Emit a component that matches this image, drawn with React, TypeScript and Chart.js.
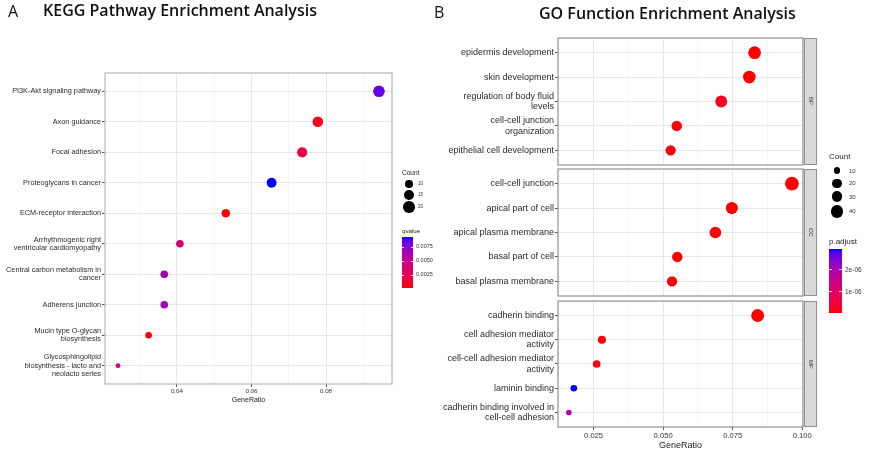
import React, { useEffect, useRef } from "react";
import { Chart, registerables } from "chart.js";
Chart.register(...registerables);

// ---------------- Data: KEGG (panel A) ----------------
const keggTerms: string[][] = [
  ["PI3K-Akt signaling pathway"],
  ["Axon guidance"],
  ["Focal adhesion"],
  ["Proteoglycans in cancer"],
  ["ECM-receptor interaction"],
  ["Arrhythmogenic right", "ventricular cardiomyopathy"],
  ["Central carbon metabolism in", "cancer"],
  ["Adherens junction"],
  ["Mucin type O-glycan", "biosynthesis"],
  ["Glycosphingolipid", "biosynthesis - lacto and", "neolacto series"],
];
const keggGeneRatio = [0.0942, 0.0778, 0.0736, 0.0654, 0.0531, 0.0408, 0.0366, 0.0366, 0.0324, 0.0242];
const keggCount = [20, 17, 16, 15, 12, 10, 10, 10, 8, 5];
const keggQvalue = [0.0085, 0.0008, 0.0021, 0.0094, 0.0004, 0.0039, 0.0068, 0.0068, 0.0003, 0.0049];
const keggXTicks = [0.03, 0.04, 0.05, 0.06, 0.07, 0.08, 0.09];
const keggXMajor = [0.04, 0.06, 0.08];
const keggXLabels = ["0.04", "0.06", "0.08"];
const keggCountLegend = [10, 15, 20];
const keggQLegend = [0.0075, 0.005, 0.0025];
const keggQLegendLabels = ["0.0075", "0.0050", "0.0025"];

// ---------------- Data: GO (panel B) ----------------
const bpTerms: string[][] = [
  ["epidermis development"],
  ["skin development"],
  ["regulation of body fluid", "levels"],
  ["cell-cell junction", "organization"],
  ["epithelial cell development"],
];
const bpGeneRatio = [0.0829, 0.081, 0.0709, 0.0549, 0.0527];
const bpCount = [41, 40, 35, 27, 26];
const bpPadj = [1.2e-10, 1.5e-10, 2.0e-7, 5e-8, 8e-8];

const ccTerms: string[][] = [
  ["cell-cell junction"],
  ["apical part of cell"],
  ["apical plasma membrane"],
  ["basal part of cell"],
  ["basal plasma membrane"],
];
const ccGeneRatio = [0.0963, 0.0747, 0.0688, 0.0551, 0.0532];
const ccCount = [48, 37, 34, 27, 26];
const ccPadj = [1e-13, 2e-10, 6e-9, 1e-8, 3e-8];

const mfTerms: string[][] = [
  ["cadherin binding"],
  ["cell adhesion mediator", "activity"],
  ["cell-cell adhesion mediator", "activity"],
  ["laminin binding"],
  ["cadherin binding involved in", "cell-cell adhesion"],
];
const mfGeneRatio = [0.084, 0.028, 0.0261, 0.0179, 0.0161];
const mfCount = [42, 16, 14, 10, 7];
const mfPadj = [1e-12, 5e-8, 8e-8, 2.95e-6, 1.9e-6];

const facetNames = ["BP", "CC", "MF"];
const goXTicks = [0.025, 0.0375, 0.05, 0.0625, 0.075, 0.0875, 0.1];
const goXMajor = [0.025, 0.05, 0.075, 0.1];
const goXLabels = ["0.025", "0.050", "0.075", "0.100"];
const goCountLegend = [10, 20, 30, 40];
const goPadjLegend = [2e-6, 1e-6];
const goPadjLegendLabels = ["2e-06", "1e-06"];

// ---------------- Helpers ----------------
const FONT = "'Liberation Sans', Arial, Helvetica, sans-serif";
const TITLE_FONT = "'Open Sans', 'Liberation Sans', sans-serif";

function lin(c: number) {
  c /= 255;
  return c <= 0.04045 ? c / 12.92 : Math.pow((c + 0.055) / 1.055, 2.4);
}
function rgb2lab(rgb: number[]) {
  const [r, g, b] = rgb.map(lin);
  const x = (0.4124 * r + 0.3576 * g + 0.1805 * b) / 0.95047;
  const y = 0.2126 * r + 0.7152 * g + 0.0722 * b;
  const z = (0.0193 * r + 0.1192 * g + 0.9505 * b) / 1.08883;
  const f = (t: number) => (t > 0.008856 ? Math.cbrt(t) : 7.787 * t + 16 / 116);
  const fx = f(x), fy = f(y), fz = f(z);
  return [116 * fy - 16, 500 * (fx - fy), 200 * (fy - fz)];
}
function lab2rgb(lab: number[]) {
  const [L, a, b] = lab;
  const fy = (L + 16) / 116, fx = fy + a / 500, fz = fy - b / 200;
  const finv = (t: number) => (t * t * t > 0.008856 ? t * t * t : (t - 16 / 116) / 7.787);
  const x = finv(fx) * 0.95047, y = finv(fy), z = finv(fz) * 1.08883;
  const r = 3.2406 * x - 1.5372 * y - 0.4986 * z;
  const g = -0.9689 * x + 1.8758 * y + 0.0415 * z;
  const bb = 0.0557 * x - 0.204 * y + 1.057 * z;
  const gam = (c: number) => {
    c = Math.min(1, Math.max(0, c));
    return Math.round(255 * (c <= 0.0031308 ? 12.92 * c : 1.055 * Math.pow(c, 1 / 2.4) - 0.055));
  };
  return `rgb(${gam(r)},${gam(g)},${gam(bb)})`;
}
const LAB_LOW = rgb2lab([255, 0, 0]);
const LAB_HIGH = rgb2lab([0, 0, 255]);
function gradColor(t: number) {
  t = Math.min(1, Math.max(0, t));
  return lab2rgb(LAB_LOW.map((v, i) => v + (LAB_HIGH[i] - v) * t));
}
function gradientCss() {
  const stops: string[] = [];
  for (let i = 0; i <= 20; i++) stops.push(`${gradColor(1 - i / 20)} ${(i / 20) * 100}%`);
  return `linear-gradient(to bottom, ${stops.join(",")})`;
}

const keggR = (c: number) => 1.527 * Math.sqrt(c) - 1.0;
const goR = (c: number) => 0.949 * Math.sqrt(c) + 0.3;

const panelBorder = {
  id: "panelBorder",
  afterDraw(chart: any, _args: any, opts: any) {
    const { left, top, right, bottom } = chart.chartArea;
    const ctx = chart.ctx;
    ctx.save();
    ctx.strokeStyle = opts.color || "#999";
    ctx.lineWidth = opts.width || 1;
    ctx.strokeRect(left, top, right - left, bottom - top);
    ctx.restore();
  },
};

function buildDot(p: any) {
  const n = p.terms.length;
  const [cMin, cMax] = p.colorRange;
  const data = p.terms.map((_: any, i: number) => ({ x: p.ratio[i], y: n - i, r: p.rFn(p.count[i]) }));
  const colors = p.colorVal.map((v: number) => gradColor((v - cMin) / (cMax - cMin)));
  const isMajor = (v: number) => p.xMajor.some((m: number) => Math.abs(m - v) < 1e-9);
  return {
    type: "bubble",
    data: { datasets: [{ data, backgroundColor: colors, borderWidth: 0, hoverBorderWidth: 0 }] },
    options: {
      responsive: false,
      animation: false,
      events: [],
      layout: { padding: p.padding },
      plugins: {
        legend: { display: false },
        tooltip: { enabled: false },
        panelBorder: { color: p.borderColor, width: p.borderWidth },
      },
      scales: {
        x: {
          type: "linear",
          min: p.xMin,
          max: p.xMax,
          border: { display: false },
          afterBuildTicks: (s: any) => {
            s.ticks = p.xTicks.map((v: number) => ({ value: v }));
          },
          afterFit: (s: any) => {
            s.height = p.xAxisH;
          },
          grid: {
            color: (ctx: any) => (ctx.tick && isMajor(ctx.tick.value) ? "#E8E8E8" : "#F0F0F0"),
            lineWidth: (ctx: any) => (ctx.tick && isMajor(ctx.tick.value) ? 1 : 0.7),
            drawTicks: p.showX,
            tickLength: 3,
            tickWidth: 1,
            tickColor: (ctx: any) => (ctx.tick && isMajor(ctx.tick.value) ? "#555" : "rgba(0,0,0,0)"),
          },
          ticks: {
            display: p.showX,
            padding: 1,
            color: "#333",
            autoSkip: false,
            maxRotation: 0,
            minRotation: 0,
            font: { family: FONT, size: p.xFont },
            callback: (v: number) => {
              const k = p.xMajor.findIndex((m: number) => Math.abs(m - v) < 1e-9);
              return k >= 0 ? p.xLabels[k] : "";
            },
          },
        },
        y: {
          type: "linear",
          min: 0.4,
          max: n + 0.6,
          border: { display: false },
          afterBuildTicks: (s: any) => {
            s.ticks = p.terms.map((_: any, i: number) => ({ value: i + 1 }));
          },
          afterFit: (s: any) => {
            s.width = p.yAxisW;
          },
          grid: { color: "#E8E8E8", lineWidth: 1, tickLength: 3, tickWidth: 1, tickColor: "#555" },
          ticks: {
            padding: 1,
            color: "#2b2b2b",
            autoSkip: false,
            font: { family: FONT, size: p.yFont, lineHeight: 1.15 },
            callback: (v: number) => p.terms[n - Math.round(v)],
          },
        },
      },
    },
    plugins: [panelBorder],
  };
}

function ChartCanvas(props: { left: number; top: number; width: number; height: number; build: () => any }) {
  const ref = useRef<HTMLCanvasElement>(null);
  useEffect(() => {
    const chart = new Chart(ref.current as HTMLCanvasElement, props.build());
    return () => chart.destroy();
  }, []);
  return (
    <canvas
      ref={ref}
      width={props.width}
      height={props.height}
      style={{ position: "absolute", left: props.left, top: props.top, width: props.width, height: props.height }}
    />
  );
}

function Txt(props: { x: number; y: number; size: number; children: any; anchor?: string; color?: string; weight?: number; family?: string }) {
  const tx = props.anchor === "middle" ? "-50%" : "0";
  return (
    <div
      style={{
        position: "absolute",
        left: props.x,
        top: props.y,
        transform: `translate(${tx}, -50%)`,
        fontSize: props.size,
        lineHeight: 1,
        whiteSpace: "nowrap",
        color: props.color || "#222",
        fontWeight: props.weight || 400,
        fontFamily: props.family || FONT,
      }}
    >
      {props.children}
    </div>
  );
}

function Dot(props: { x: number; y: number; r: number }) {
  return (
    <div
      style={{
        position: "absolute",
        left: props.x - props.r,
        top: props.y - props.r,
        width: props.r * 2,
        height: props.r * 2,
        borderRadius: "50%",
        background: "#000",
      }}
    />
  );
}

function ColorBar(props: { x: number; top: number; w: number; h: number; range: number[]; values: number[]; labels: string[]; labelX: number; size: number }) {
  const [mn, mx] = props.range;
  const yOf = (v: number) => props.top + ((mx - v) / (mx - mn)) * props.h;
  return (
    <>
      <div style={{ position: "absolute", left: props.x, top: props.top, width: props.w, height: props.h, background: gradientCss() }} />
      {props.values.map((v, i) => (
        <React.Fragment key={i}>
          <div style={{ position: "absolute", left: props.x, top: yOf(v) - 0.5, width: props.w * 0.2, height: 1, background: "rgba(255,255,255,0.8)" }} />
          <div style={{ position: "absolute", left: props.x + props.w * 0.8, top: yOf(v) - 0.5, width: props.w * 0.2, height: 1, background: "rgba(255,255,255,0.8)" }} />
          <Txt x={props.labelX} y={yOf(v)} size={props.size} color="#333">
            {props.labels[i]}
          </Txt>
        </React.Fragment>
      ))}
    </>
  );
}

// ---------------- Layout ----------------
const A_PLOT = { left: 105, right: 392, top: 73, bottom: 384 };
const B_LEFT = 558;
const B_RIGHT = 803;
const B_FACETS = [
  { top: 38, bottom: 165 },
  { top: 169, bottom: 296 },
  { top: 301, bottom: 427 },
];

export default function App() {
  const keggRange = [Math.min(...keggQvalue), Math.max(...keggQvalue)];
  const allPadj = [...bpPadj, ...ccPadj, ...mfPadj];
  const goRange = [Math.min(...allPadj), Math.max(...allPadj)];

  const buildA = () =>
    buildDot({
      terms: keggTerms,
      ratio: keggGeneRatio,
      count: keggCount,
      colorVal: keggQvalue,
      colorRange: keggRange,
      rFn: keggR,
      xMin: 0.0207,
      xMax: 0.0977,
      xTicks: keggXTicks,
      xMajor: keggXMajor,
      xLabels: keggXLabels,
      yAxisW: A_PLOT.left,
      xAxisH: 14,
      padding: { left: 0, top: A_PLOT.top, right: 400 - A_PLOT.right, bottom: 452 - A_PLOT.bottom - 14 },
      showX: true,
      xFont: 6.2,
      yFont: 7.3,
      borderColor: "#B8B8B8",
      borderWidth: 1.2,
    });

  const facetData = [
    { terms: bpTerms, ratio: bpGeneRatio, count: bpCount, padj: bpPadj },
    { terms: ccTerms, ratio: ccGeneRatio, count: ccCount, padj: ccPadj },
    { terms: mfTerms, ratio: mfGeneRatio, count: mfCount, padj: mfPadj },
  ];
  const CAN_LEFT = 420;
  const CAN_W = 869 - CAN_LEFT;

  const facetCanvases = facetData.map((f, i) => {
    const fr = B_FACETS[i];
    const last = i === facetData.length - 1;
    const top = fr.top - 10;
    const xAxisH = last ? 20 : 0;
    const padBottom = last ? 452 - fr.bottom - xAxisH : 7;
    const height = last ? 452 - top : fr.bottom + 7 - top;
    const build = () =>
      buildDot({
        terms: f.terms,
        ratio: f.ratio,
        count: f.count,
        colorVal: f.padj,
        colorRange: goRange,
        rFn: goR,
        xMin: 0.0122,
        xMax: 0.1003,
        xTicks: goXTicks,
        xMajor: goXMajor,
        xLabels: goXLabels,
        yAxisW: B_LEFT - CAN_LEFT,
        xAxisH,
        padding: { left: 0, top: 10, right: CAN_W - (B_RIGHT - CAN_LEFT), bottom: padBottom },
        showX: last,
        xFont: 7.6,
        yFont: 9,
        borderColor: "#9A9A9A",
        borderWidth: 1.3,
      });
    return <ChartCanvas key={i} left={CAN_LEFT} top={top} width={CAN_W} height={height} build={build} />;
  });

  return (
    <div style={{ position: "absolute", left: 0, top: 0, width: 869, height: 452, background: "#fff", overflow: "hidden", fontFamily: FONT }}>
      <ChartCanvas left={0} top={0} width={400} height={452} build={buildA} />
      {facetCanvases}

      {/* Titles */}
      <Txt x={8} y={11} size={16} family={TITLE_FONT} color="#111">A</Txt>
      <Txt x={43} y={9.5} size={16} weight={600} family={TITLE_FONT} color="#111">KEGG Pathway Enrichment Analysis</Txt>
      <Txt x={434} y={12} size={16} family={TITLE_FONT} color="#111">B</Txt>
      <Txt x={539} y={12.5} size={16} weight={600} family={TITLE_FONT} color="#111">GO Function Enrichment Analysis</Txt>

      {/* Axis titles */}
      <Txt x={(A_PLOT.left + A_PLOT.right) / 2} y={399} size={7} anchor="middle">GeneRatio</Txt>
      <Txt x={(B_LEFT + B_RIGHT) / 2} y={445} size={9} anchor="middle">GeneRatio</Txt>

      {/* Facet strips */}
      {B_FACETS.map((fr, i) => (
        <div
          key={i}
          style={{
            position: "absolute",
            left: B_RIGHT + 1,
            top: fr.top,
            width: 13,
            height: fr.bottom - fr.top,
            background: "#D9D9D9",
            border: "1px solid #8F8F8F",
            boxSizing: "border-box",
            display: "flex",
            alignItems: "center",
            justifyContent: "center",
          }}
        >
          <span style={{ writingMode: "vertical-rl", fontSize: 6, color: "#333", lineHeight: 1 }}>{facetNames[i]}</span>
        </div>
      ))}

      {/* Legend A */}
      <Txt x={402} y={173} size={6.5} color="#222">Count</Txt>
      {keggCountLegend.map((c, i) => (
        <React.Fragment key={c}>
          <Dot x={409} y={[184, 194.7, 207][i]} r={keggR(c)} />
          <Txt x={418} y={[184, 194.7, 207][i]} size={4.6} color="#333">{String(c)}</Txt>
        </React.Fragment>
      ))}
      <Txt x={402} y={231} size={6.2} color="#222">qvalue</Txt>
      <ColorBar x={402} top={236.7} w={11} h={51} range={keggRange} values={keggQLegend} labels={keggQLegendLabels} labelX={416} size={5.5} />

      {/* Legend B */}
      <Txt x={829} y={156.7} size={8} color="#222">Count</Txt>
      {goCountLegend.map((c, i) => (
        <React.Fragment key={c}>
          <Dot x={837} y={[170.7, 183.3, 196.7, 211.3][i]} r={goR(c)} />
          <Txt x={849} y={[170.7, 183.3, 196.7, 211.3][i]} size={6} color="#333">{String(c)}</Txt>
        </React.Fragment>
      ))}
      <Txt x={829} y={241.7} size={8} color="#222">p.adjust</Txt>
      <ColorBar x={829} top={249.3} w={12.5} h={64} range={goRange} values={goPadjLegend} labels={goPadjLegendLabels} labelX={845} size={6.5} />
    </div>
  );
}
